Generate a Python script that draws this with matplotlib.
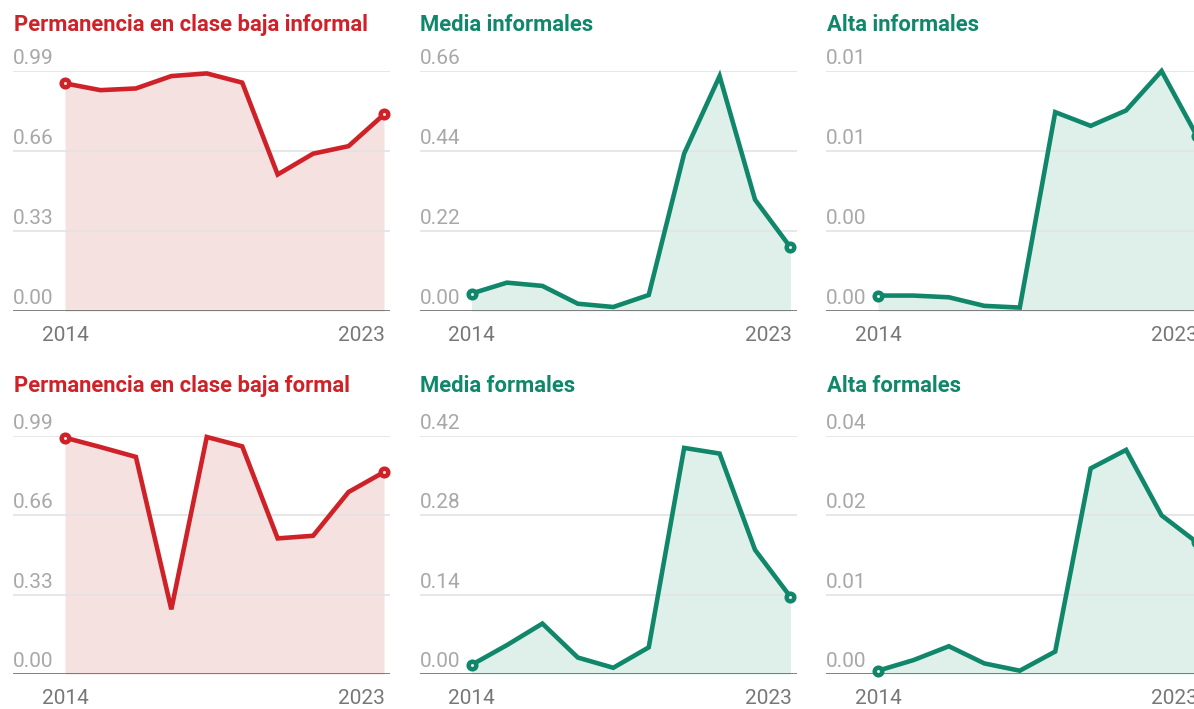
import matplotlib
matplotlib.use('Agg')
from matplotlib import pyplot as plt

plt.rcParams['font.family'] = ['Roboto', 'DejaVu Sans']

# data
years = list(range(2014, 2024))

baja_informal = [0.939, 0.911, 0.918, 0.969, 0.980, 0.942, 0.563, 0.649, 0.680, 0.811]
media_informales = [0.048, 0.078, 0.069, 0.020, 0.011, 0.044, 0.433, 0.646, 0.306, 0.175]
alta_informales = [0.0009, 0.0009, 0.0008, 0.0003, 0.0002, 0.0116, 0.0108, 0.0117, 0.0140, 0.0102]
baja_formal = [0.983, 0.944, 0.903, 0.269, 0.986, 0.947, 0.564, 0.575, 0.757, 0.840]
media_formales = [0.016, 0.051, 0.089, 0.029, 0.011, 0.047, 0.399, 0.389, 0.219, 0.136]
alta_formales = [0.0005, 0.0021, 0.0042, 0.0016, 0.0005, 0.0034, 0.0311, 0.0339, 0.0240, 0.0199]

titles = ['Permanencia en clase baja informal', 'Media informales', 'Alta informales',
          'Permanencia en clase baja formal', 'Media formales', 'Alta formales']
series = [baja_informal, media_informales, alta_informales,
          baja_formal, media_formales, alta_formales]
y_max = [0.99, 0.66, 0.014, 0.99, 0.42, 0.036]
y_labels = [['0.00', '0.33', '0.66', '0.99'],
            ['0.00', '0.22', '0.44', '0.66'],
            ['0.00', '0.00', '0.01', '0.01'],
            ['0.00', '0.33', '0.66', '0.99'],
            ['0.00', '0.14', '0.28', '0.42'],
            ['0.00', '0.01', '0.02', '0.04']]

RED, RED_FILL = '#cf2228', '#f6e1e1'
GREEN, GREEN_FILL = '#10876a', '#dff0ea'
GRAY_TXT = '#a8a8a8'

W, H = 1194, 709
fig = plt.figure(figsize=(W / 100, H / 100), dpi=100)

# pixel layout: (left, top, bottom) of each axes
col_left = [13, 419.5, 826]
row_top = [71, 436]
row_bottom = [311, 674]
title_off = [35, 39]
ax_w = 377
px_per_year = 319 / 9

for i in range(6):
    r, c = divmod(i, 3)
    left = col_left[c]
    top, bottom = row_top[r], row_bottom[r]
    ax = fig.add_axes([left / W, (H - bottom) / H, ax_w / W, (bottom - top) / H])
    color, fill = (RED, RED_FILL) if c == 0 else (GREEN, GREEN_FILL)
    vals = series[i]
    ym = y_max[i]

    x0 = years[0] - 52 / px_per_year
    x1 = x0 + ax_w / px_per_year
    ax.set_xlim(x0, x1)
    ax.set_ylim(0, ym)
    ax.axis('off')

    ax.fill_between(years, 0, vals, color=fill, lw=0, zorder=1)
    for k in range(1, 4):
        ax.axhline(ym * k / 3, color='#e3e3e3', lw=1.2, zorder=2)
    ax.plot(years, vals, color=color, lw=3.3, solid_joinstyle='miter', zorder=4,
            clip_on=False)
    ax.plot([years[0], years[-1]], [vals[0], vals[-1]], 'o', ms=5.5, mfc=fill,
            mec=color, mew=3.2, zorder=5, clip_on=False)
    ax.axhline(0, color='#5a5a5a', lw=1.8, zorder=6)

    for k, lab in enumerate(y_labels[i]):
        ax.annotate(lab, (0, ym * k / 3), xycoords=('axes fraction', 'data'),
                    xytext=(0, 3), textcoords='offset pixels', ha='left',
                    va='bottom', color=GRAY_TXT, fontsize=15)

    ax.annotate('2014', (years[0], 0), xytext=(0, -15), textcoords='offset pixels',
                ha='center', va='top', color='#777777', fontsize=15)
    ax.annotate('2023', (years[-1], 0), xytext=(1, -15), textcoords='offset pixels',
                ha='right', va='top', color='#777777', fontsize=15)

    ax.annotate(titles[i], (0, 1), xycoords='axes fraction', xytext=(1, title_off[r]),
                textcoords='offset pixels', ha='left', va='bottom', color=color,
                fontsize=15.8, fontweight='bold')

fig.savefig('out.png', dpi=100)
